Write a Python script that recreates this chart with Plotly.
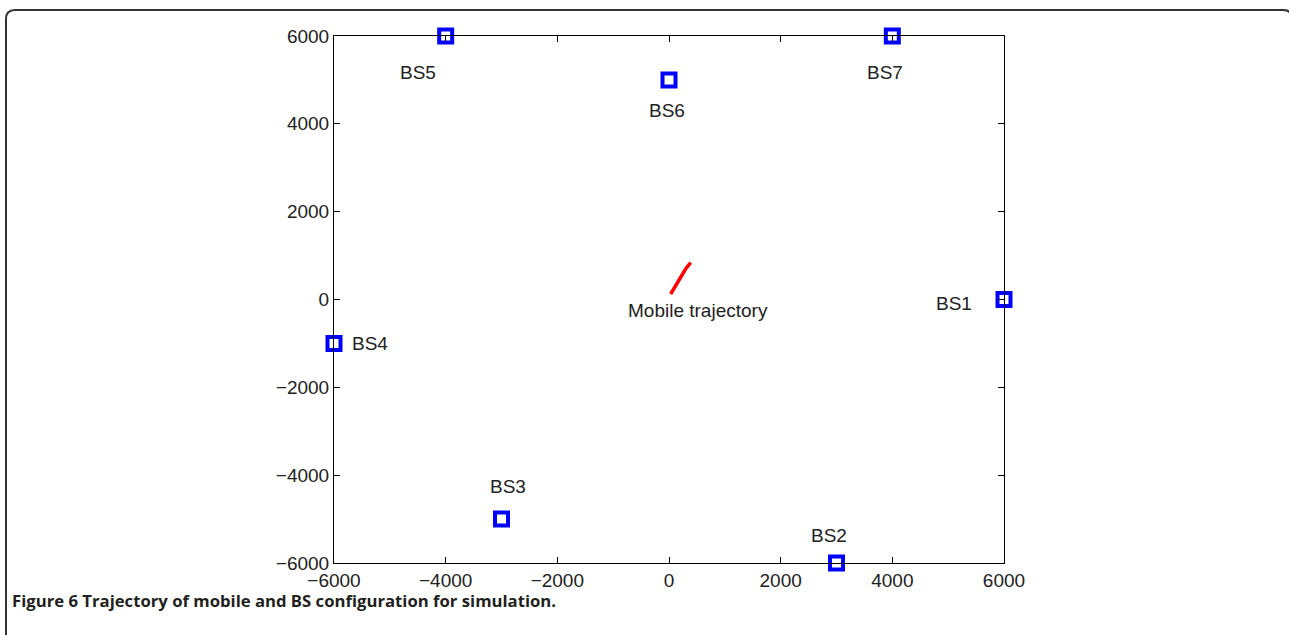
import plotly.graph_objects as go

# Base station data
bs_names = ["BS1", "BS2", "BS3", "BS4", "BS5", "BS6", "BS7"]
bs_x = [6000, 3000, -3000, -6000, -4000, 0, 4000]
bs_y = [0, -6000, -5000, -1000, 6000, 5000, 6000]

# Mobile trajectory
traj_x = [30, 110, 197, 305, 389]
traj_y = [125, 300, 500, 710, 838]

tick_vals = [-6000, -4000, -2000, 0, 2000, 4000, 6000]

# Label pixel offsets (presentation only)
label_shift = {
    "BS1": (-50, -4), "BS2": (-8, 28), "BS3": (6, 33), "BS4": (36, 0),
    "BS5": (-28, -36), "BS6": (-2, -31), "BS7": (-7, -36),
}

W, H = 1289, 635
L, R, T, B = 334, 1004, 36, 563

fig = go.Figure()
fig.add_trace(go.Scatter(x=traj_x, y=traj_y, mode="lines",
                         line=dict(color="#ff0000", width=3.5),
                         hoverinfo="skip", showlegend=False))
fig.add_trace(go.Scatter(x=bs_x, y=bs_y, mode="markers",
                         marker=dict(symbol="square-open", size=13, color="#0000ff",
                                     line=dict(color="#0000ff", width=4)),
                         cliponaxis=False, showlegend=False))

font_main = dict(family="Liberation Sans, Arial, sans-serif", size=19, color="#222222")

annotations = []
for n, x, y in zip(bs_names, bs_x, bs_y):
    dx, dy = label_shift[n]
    annotations.append(dict(x=x, y=y, xref="x", yref="y", text=n, showarrow=False,
                            xshift=dx, yshift=dy, font=font_main))
annotations.append(dict(x=traj_x[0], y=traj_y[0], xref="x", yref="y",
                        text="Mobile trajectory", showarrow=False,
                        xshift=27, yshift=-16, font=font_main))

pw, ph = R - L, B - T
def px(xp):
    return (xp - L) / pw
def py(yp):
    return (B - yp) / ph

annotations.append(dict(x=px(10), y=py(600), xref="paper", yref="paper",
                        xanchor="left", yanchor="middle", showarrow=False,
                        text="<b>Figure 6</b> <b>Trajectory of mobile and BS configuration for simulation.</b>",
                        font=dict(family="Open Sans, sans-serif", size=16.7, color="#231f20")))

# rounded outer frame
x0, y0, x1, y1 = px(6), py(10), px(1292), py(640)
rx, ry = 9 / pw, 9 / ph
path = (f"M {x0},{y1} L {x0},{y0 - ry} Q {x0},{y0} {x0 + rx},{y0} "
        f"L {x1 - rx},{y0} Q {x1},{y0} {x1},{y0 - ry} L {x1},{y1}")
shapes = [dict(type="path", path=path, xref="paper", yref="paper",
               line=dict(color="#333333", width=2))]

axis_common = dict(showgrid=False, zeroline=False, showline=True, linecolor="black",
                   linewidth=1, mirror="ticks", ticks="inside", ticklen=6,
                   tickcolor="black", tickvals=tick_vals, tickfont=font_main)

fig.update_layout(
    width=W, height=H,
    margin=dict(l=L, r=W - R, t=T, b=H - B),
    plot_bgcolor="white", paper_bgcolor="white",
    xaxis=dict(range=[-6000, 6000], **axis_common),
    yaxis=dict(range=[-6000, 6000], **axis_common),
    annotations=annotations, shapes=shapes,
)
fig.write_html("out.html")
